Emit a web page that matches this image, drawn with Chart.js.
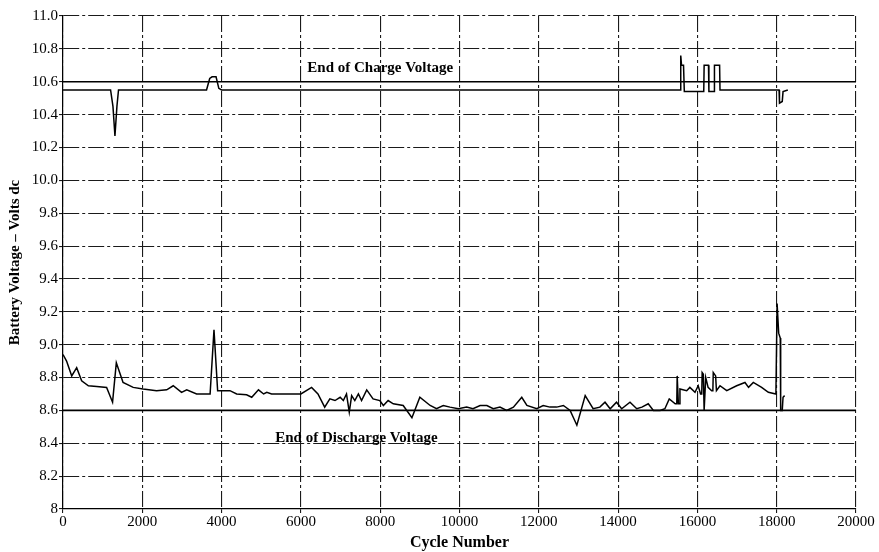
<!DOCTYPE html>
<html>
<head>
<meta charset="utf-8">
<script src="https://cdn.jsdelivr.net/npm/chart.js@4.4.1/dist/chart.umd.min.js"></script>
<style>
  html, body { margin: 0; padding: 0; background: #fff; }
  #wrap { width: 879px; height: 552px; }
</style>
</head>
<body>
<div id="wrap"><canvas id="batteryChart" width="879" height="552"></canvas></div>
<script>
// Напряжение конца заряда (цикл -> вольты)
const chargeCycles = [0, 1200, 1260, 1310, 1360, 1400, 3620, 3700, 3760, 3860, 3930, 4000,
  15570, 15580, 15600, 15650, 15670, 16160, 16170, 16280, 16290, 16420, 16430, 16560, 16570,
  18060, 18070, 18140, 18160, 18280];
const chargeVolts = [10.55, 10.55, 10.45, 10.27, 10.45, 10.55, 10.55, 10.62, 10.63, 10.63, 10.56, 10.55,
  10.55, 10.76, 10.70, 10.70, 10.54, 10.54, 10.70, 10.70, 10.54, 10.54, 10.70, 10.70, 10.55,
  10.55, 10.47, 10.48, 10.54, 10.55];

// Напряжение конца разряда
const dischargeCycles = [0, 90, 220, 345, 470, 640, 850, 1100, 1250, 1345, 1515, 1770, 2020, 2360,
  2615, 2780, 2990, 3120, 3370, 3710, 3808, 3900, 4210, 4380, 4630, 4760, 4930, 5060, 5140, 5260,
  6000, 6270, 6430, 6600, 6730, 6860, 6990, 7070, 7150, 7220, 7280, 7360, 7450, 7530, 7660, 7820,
  7990, 8080, 8200, 8330, 8580, 8800, 9000, 9260, 9420, 9590, 9760, 9970, 10180, 10340, 10520,
  10690, 10850, 11020, 11190, 11360, 11570, 11700, 11950, 12110, 12280, 12450, 12620, 12790,
  12960, 13170, 13370, 13540, 13670, 13800, 13960, 14090, 14300, 14470, 14600, 14760, 14890,
  15060, 15180, 15290, 15440, 15480, 15490, 15520, 15540, 15560, 15730, 15810, 15940, 16020,
  16080, 16110, 16120, 16150, 16170, 16190, 16210, 16270, 16360, 16390, 16400, 16460, 16480,
  16570, 16740, 16990, 17200, 17290, 17410, 17620, 17790, 17980, 18010, 18050, 18090, 18100,
  18140, 18160, 18200];
const dischargeVolts = [8.94, 8.90, 8.81, 8.86, 8.78, 8.75, 8.745, 8.74, 8.65, 8.89, 8.77, 8.74, 8.73, 8.72,
  8.725, 8.75, 8.71, 8.725, 8.70, 8.70, 9.09, 8.72, 8.72, 8.70, 8.695, 8.68, 8.725, 8.70, 8.71, 8.70,
  8.70, 8.74, 8.70, 8.62, 8.67, 8.66, 8.68, 8.66, 8.70, 8.59, 8.69, 8.66, 8.70, 8.66, 8.725, 8.67,
  8.66, 8.63, 8.66, 8.64, 8.63, 8.555, 8.68, 8.63, 8.61, 8.63, 8.62, 8.61, 8.62, 8.61, 8.63,
  8.63, 8.61, 8.62, 8.60, 8.62, 8.68, 8.63, 8.61, 8.63, 8.62, 8.62, 8.63, 8.60,
  8.51, 8.69, 8.61, 8.62, 8.65, 8.61, 8.65, 8.61, 8.65, 8.61, 8.62, 8.64, 8.60,
  8.60, 8.61, 8.67, 8.64, 8.64, 8.81, 8.64, 8.64, 8.73, 8.72, 8.74, 8.71, 8.75,
  8.70, 8.70, 8.83, 8.82, 8.60, 8.60, 8.80, 8.74, 8.72, 8.72, 8.83, 8.81, 8.72,
  8.75, 8.72, 8.75, 8.77, 8.74, 8.77, 8.74, 8.71, 8.70, 9.25, 9.07, 9.04, 8.60,
  8.60, 8.68, 8.69];

// Пределы напряжения
const limitCycles = [0, 20000];
const chargeLimit = [10.6, 10.6];
const dischargeLimit = [8.6, 8.6];

// Подписи
const labelTexts = ['End of Charge Voltage', 'End of Discharge Voltage'];
const labelCycles = [8000, 7400];
const labelVolts = [10.685, 8.43];

function toPoints(xs, ys) {
  return xs.map((x, i) => ({ x: x, y: ys[i] }));
}

const serif = '"Liberation Serif", "Times New Roman", serif';

const lineStyle = {
  borderColor: '#000',
  borderWidth: 1.5,
  pointRadius: 0,
  tension: 0,
  fill: false
};

const textPlugin = {
  id: 'limitLabels',
  afterDatasetsDraw(chart) {
    const ctx = chart.ctx;
    const xs = chart.scales.x, ys = chart.scales.y;
    ctx.save();
    ctx.fillStyle = '#000';
    ctx.font = 'bold 15px ' + serif;
    ctx.textAlign = 'center';
    ctx.textBaseline = 'middle';
    labelTexts.forEach((t, i) => {
      ctx.fillText(t, xs.getPixelForValue(labelCycles[i]), ys.getPixelForValue(labelVolts[i]));
    });
    ctx.restore();
  }
};

const gridDash = [16, 3, 3, 3];

new Chart(document.getElementById('batteryChart'), {
  type: 'line',
  data: {
    datasets: [
      Object.assign({ label: 'Charge', data: toPoints(chargeCycles, chargeVolts) }, lineStyle),
      Object.assign({ label: 'Discharge', data: toPoints(dischargeCycles, dischargeVolts) }, lineStyle),
      Object.assign({ label: 'Charge limit', data: toPoints(limitCycles, chargeLimit) }, lineStyle, { borderWidth: 1.6 }),
      Object.assign({ label: 'Discharge limit', data: toPoints(limitCycles, dischargeLimit) }, lineStyle, { borderWidth: 1.6 })
    ]
  },
  options: {
    responsive: false,
    animation: false,
    layout: { padding: { top: 16, right: 23, left: 0, bottom: 0 } },
    plugins: {
      legend: { display: false },
      tooltip: { enabled: false }
    },
    scales: {
      x: {
        type: 'linear',
        min: 0,
        max: 20000,
        ticks: {
          stepSize: 2000,
          color: '#000',
          font: { family: serif, size: 15 },
          padding: 0,
          maxRotation: 0,
          callback: v => String(v)
        },
        grid: { color: '#1a1a1a', lineWidth: 1.1, tickLength: 4 },
        border: { color: '#000', width: 1.2, dash: gridDash },
        title: {
          display: true,
          text: 'Cycle Number',
          color: '#000',
          font: { family: serif, size: 16, weight: 'bold' },
          padding: { top: 0, bottom: 0 }
        },
        afterFit: s => { s.height = 43; }
      },
      y: {
        min: 8,
        max: 11,
        ticks: {
          stepSize: 0.2,
          color: '#000',
          font: { family: serif, size: 15 },
          padding: 1,
          callback: v => (Math.abs(v - 8) < 1e-6 ? '8' : v.toFixed(1))
        },
        grid: { color: '#1a1a1a', lineWidth: 1.1, tickLength: 4 },
        border: { color: '#000', width: 1.2, dash: gridDash },
        title: {
          display: true,
          text: 'Battery Voltage – Volts dc',
          color: '#000',
          font: { family: serif, size: 15, weight: 'bold' },
          padding: { top: 6, bottom: 0 }
        },
        afterFit: s => { s.width = 63; }
      }
    }
  },
  plugins: [textPlugin]
});
</script>
</body>
</html>
